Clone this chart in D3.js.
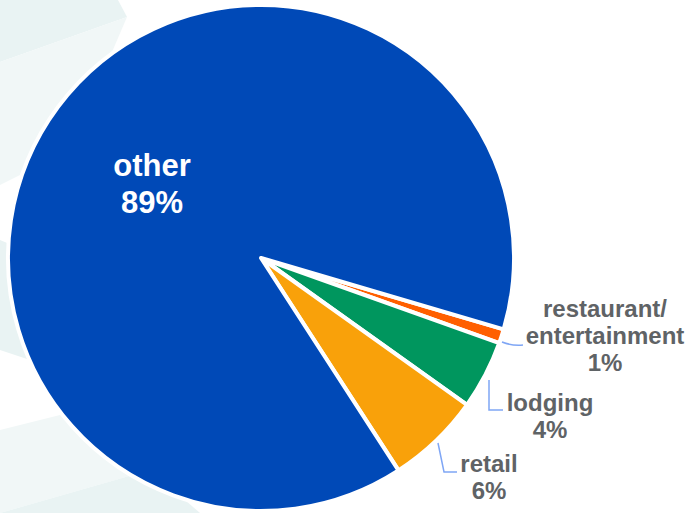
<!DOCTYPE html>
<html>
<head>
<meta charset="utf-8">
<script src="https://cdn.jsdelivr.net/npm/d3@7"></script>
<style>
  body { margin: 0; background: #fff; }
  svg { display: block; }
</style>
</head>
<body>
<script>
// slice data, clockwise from the restaurant slice
const categories = ['restaurant/\nentertainment', 'lodging', 'retail', 'other'];
const values = [0.9, 4.4, 6.0, 88.7];
const labels = ['1%', '4%', '6%', '89%'];
const colors = ['#ff5f00', '#00965e', '#f9a10a', '#0049b7'];

const width = 688, height = 513;
const cx = 261, cy = 258, radius = 253;

const svg = d3.select('body').append('svg')
    .attr('width', width)
    .attr('height', height);

// faint decorative background on the left
const bg = svg.append('g');
const bgShapes = [
    [[0, 0], [118, 0], [127, 17], [0, 62]],
    [[0, 62], [127, 17], [70, 150], [0, 185]],
    [[0, 240], [60, 265], [30, 360], [0, 350]],
    [[0, 430], [120, 400], [150, 470], [0, 513]],
    [[0, 513], [150, 470], [200, 513]]
];
bg.selectAll('polygon')
    .data(bgShapes)
    .enter()
    .append('polygon')
    .attr('points', d => d.map(p => p.join(',')).join(' '))
    .attr('fill', (d, i) => i % 2 ? '#f1f7f7' : '#e9f3f3');

const data = categories.map((c, i) => ({ name: c, value: values[i], label: labels[i], color: colors[i] }));

const start = 106.4 * Math.PI / 180;
const pie = d3.pie()
    .value(d => d.value)
    .sort(null)
    .startAngle(start)
    .endAngle(start + 2 * Math.PI);

const arc = d3.arc().innerRadius(0).outerRadius(radius);

const g = svg.append('g').attr('transform', `translate(${cx},${cy})`);

g.selectAll('path')
    .data(pie(data))
    .enter()
    .append('path')
    .attr('d', arc)
    .attr('fill', d => d.data.color)
    .attr('stroke', '#fff')
    .attr('stroke-width', 4)
    .attr('stroke-linejoin', 'round');

// other label inside the slice
const other = svg.append('text')
    .attr('text-anchor', 'middle')
    .attr('fill', '#fff')
    .attr('font-family', 'Liberation Sans, Arial, sans-serif')
    .attr('font-weight', 'bold')
    .attr('font-size', '31px');
other.append('tspan').attr('x', 152).attr('y', 176).text('other');
other.append('tspan').attr('x', 152).attr('y', 213).text(labels[3]);

// outside labels with leader lines
const outside = [
    { i: 0, x: 605, y: 317, line: 'M502,342 Q512,346 523,345' },
    { i: 1, x: 550, y: 411, line: 'M489,380 L489,410 L503,410' },
    { i: 2, x: 489, y: 472, line: 'M438,443 L444,472 L457,472' }
];

svg.selectAll('path.leader')
    .data(outside)
    .enter()
    .append('path')
    .attr('class', 'leader')
    .attr('d', d => d.line)
    .attr('fill', 'none')
    .attr('stroke', '#7fa6f5')
    .attr('stroke-width', 1.5);

outside.forEach(o => {
    const lines = categories[o.i].split('\n').concat([labels[o.i]]);
    const t = svg.append('text')
        .attr('text-anchor', 'middle')
        .attr('fill', '#5f6366')
        .attr('font-family', 'Liberation Sans, Arial, sans-serif')
        .attr('font-weight', 'bold')
        .attr('font-size', '24px');
    lines.forEach((s, k) => {
        t.append('tspan')
            .attr('x', o.x)
            .attr('y', o.y + k * 27)
            .text(s);
    });
});
</script>
</body>
</html>
